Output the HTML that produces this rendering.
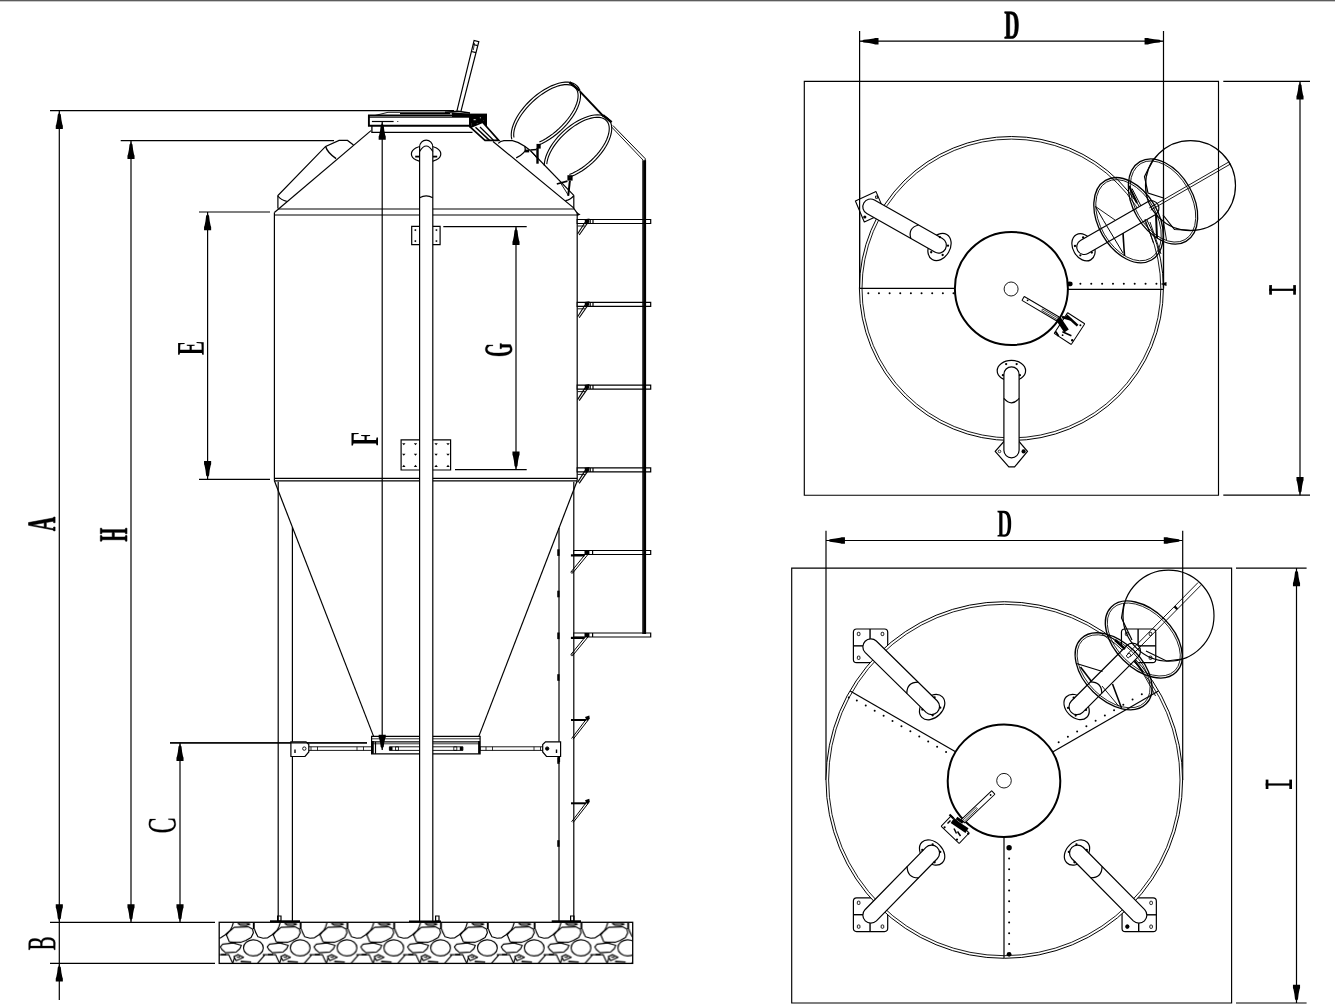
<!DOCTYPE html>
<html><head><meta charset="utf-8"><title>Silo drawing</title>
<style>
html,body{margin:0;padding:0;background:#fff;}
body{width:1335px;height:1006px;overflow:hidden;font-family:"Liberation Serif",serif;}
svg{display:block;position:absolute;left:0;top:0;}
.g{fill:none;stroke:#000;stroke-width:1.2;stroke-linecap:butt;stroke-linejoin:miter;}
.k{fill:#000;stroke:none;}
.w{fill:#fff;}
.t{font-family:"Liberation Serif",serif;fill:#000;}
</style></head>
<body>
<svg width="1335" height="1006" viewBox="0 0 1335 1006">
<defs>
<pattern id="gravel" patternUnits="userSpaceOnUse" x="253" y="922.3" width="46.8" height="41.1"><g fill="none" stroke="#000" stroke-width="1.15" stroke-linejoin="round"><path d="M1.5,6.9 L2.6,9.9 L4.9,14.4 L10.1,15.9 L14.6,15.5 L19.1,12.5 L24,8 L25.8,4.6 L27.3,0 M31.8,1.3 L34.8,0.75 L40,0.9 L43.8,2 L40,3.1 L34,2.8 Z M28.1,5 L41.9,4.5 L46.4,6.9 L47.2,10.6 L44.9,15.1 L39.7,18.1 L34.5,20 L23.2,19.6 L20.2,12.5 L22.5,9.9 Z M-18.7,5 L-4.9,4.5 L-0.4,6.9 L0.4,10.6 L-1.9,15.1 L-7.1,18.1 M14.2,24.5 L16.5,21.9 L27,20.7 L35.2,23 L33.7,26.4 L30,29.7 L19.5,30.5 L15.7,27.1 Z M4.5,41.1 L12,32.4 L22.5,32.4 L26.6,41.1 M9.7,32.4 L12,32.4 M27.7,34.2 L31.8,32.4 L37.5,35 L30,38.4 Z M26.6,41.1 L28.5,34.6 M30.5,35 L34,34.6"/><path d="M0.8,0 L0.8,6.9 M47.6,0 L47.6,6.9" stroke-width="1.9"/><path d="M34.5,39.3 L45,39.9 M24,20.2 L30,20.5 M15,32.4 L20,32.4" stroke-width="1.6"/><ellipse cx="0.4" cy="25.6" rx="9.9" ry="8.1"/><ellipse cx="47.2" cy="25.6" rx="9.9" ry="8.1"/></g></pattern>
</defs>
<rect x="0" y="0" width="1335" height="1006" fill="#fff"/>
<rect x="0" y="0" width="1335" height="1" fill="#5c5c5c"/>
<rect x="0" y="1" width="1335" height="1" fill="#c9c9c9"/>
<g class="g">
<rect x="219.2" y="922.3" width="413.5" height="41.1" fill="url(#gravel)" stroke="#000" stroke-width="1.3"/>
<line x1="50" y1="110.7" x2="454" y2="110.7"/>
<line x1="50" y1="922.4" x2="215" y2="922.4"/>
<line x1="50" y1="963.4" x2="215" y2="963.4"/>
<line x1="59.3" y1="110.7" x2="59.3" y2="1000"/>
<path d="M59.3,110.7 L58.7,113.5 L57.8,114.5 L57.2,119.7 L56.3,124.2 L55.75,125.7 L55.75,128.9 L62.85,128.9 L62.85,125.7 L62.3,124.2 L61.4,119.7 L60.8,114.5 L59.9,113.5Z" class="k"/>
<path d="M59.3,922.4 L58.7,919.6 L57.8,918.6 L57.2,913.4 L56.3,908.9 L55.75,907.4 L55.75,904.2 L62.85,904.2 L62.85,907.4 L62.3,908.9 L61.4,913.4 L60.8,918.6 L59.9,919.6Z" class="k"/>
<path d="M59.3,963.4 L58.7,966.2 L57.8,967.2 L57.2,972.4 L56.3,976.9 L55.75,978.4 L55.75,981.6 L62.85,981.6 L62.85,978.4 L62.3,976.9 L61.4,972.4 L60.8,967.2 L59.9,966.2Z" class="k"/>
<line x1="120.7" y1="140.7" x2="334" y2="140.7"/>
<line x1="131" y1="140.7" x2="131" y2="922.4"/>
<path d="M131,140.7 L130.4,143.5 L129.5,144.5 L128.9,149.7 L128,154.2 L127.45,155.7 L127.45,158.9 L134.55,158.9 L134.55,155.7 L134,154.2 L133.1,149.7 L132.5,144.5 L131.6,143.5Z" class="k"/>
<path d="M131,922.4 L130.4,919.6 L129.5,918.6 L128.9,913.4 L128,908.9 L127.45,907.4 L127.45,904.2 L134.55,904.2 L134.55,907.4 L134,908.9 L133.1,913.4 L132.5,918.6 L131.6,919.6Z" class="k"/>
<line x1="199" y1="212" x2="270" y2="212"/>
<line x1="199" y1="479.3" x2="270" y2="479.3"/>
<line x1="207.6" y1="212" x2="207.6" y2="479.3"/>
<path d="M207.6,212 L207,214.8 L206.1,215.8 L205.5,221 L204.6,225.5 L204.05,227 L204.05,230.2 L211.15,230.2 L211.15,227 L210.6,225.5 L209.7,221 L209.1,215.8 L208.2,214.8Z" class="k"/>
<path d="M207.6,479.3 L207,476.5 L206.1,475.5 L205.5,470.3 L204.6,465.8 L204.05,464.3 L204.05,461.1 L211.15,461.1 L211.15,464.3 L210.6,465.8 L209.7,470.3 L209.1,475.5 L208.2,476.5Z" class="k"/>
<line x1="170" y1="742.8" x2="367" y2="742.8"/>
<line x1="180" y1="742.8" x2="180" y2="922.4"/>
<path d="M180,742.8 L179.4,745.6 L178.5,746.6 L177.9,751.8 L177,756.3 L176.45,757.8 L176.45,761 L183.55,761 L183.55,757.8 L183,756.3 L182.1,751.8 L181.5,746.6 L180.6,745.6Z" class="k"/>
<path d="M180,922.4 L179.4,919.6 L178.5,918.6 L177.9,913.4 L177,908.9 L176.45,907.4 L176.45,904.2 L183.55,904.2 L183.55,907.4 L183,908.9 L182.1,913.4 L181.5,918.6 L180.6,919.6Z" class="k"/>
<line x1="443.3" y1="226.7" x2="526.7" y2="226.7"/>
<line x1="455" y1="469.7" x2="526.7" y2="469.7"/>
<line x1="516" y1="226.7" x2="516" y2="469.7"/>
<path d="M516,226.7 L515.4,229.5 L514.5,230.5 L513.9,235.7 L513,240.2 L512.45,241.7 L512.45,244.9 L519.55,244.9 L519.55,241.7 L519,240.2 L518.1,235.7 L517.5,230.5 L516.6,229.5Z" class="k"/>
<path d="M516,469.7 L515.4,466.9 L514.5,465.9 L513.9,460.7 L513,456.2 L512.45,454.7 L512.45,451.5 L519.55,451.5 L519.55,454.7 L519,456.2 L518.1,460.7 L517.5,465.9 L516.6,466.9Z" class="k"/>
<line x1="278.2" y1="481.7" x2="278.2" y2="921"/>
<line x1="292.4" y1="527.2" x2="292.4" y2="921"/>
<line x1="559" y1="528" x2="559" y2="921"/>
<line x1="573.8" y1="481.7" x2="573.8" y2="921"/>
<line x1="558.4" y1="549.3" x2="558.4" y2="555.9" stroke-width="2.3"/>
<line x1="558.4" y1="590.7" x2="558.4" y2="597.3" stroke-width="2.3"/>
<line x1="558.4" y1="632.5" x2="558.4" y2="639.1" stroke-width="2.3"/>
<line x1="558.4" y1="674.2" x2="558.4" y2="680.8" stroke-width="2.3"/>
<line x1="558.4" y1="757.2" x2="558.4" y2="763.8" stroke-width="2.3"/>
<line x1="558.4" y1="840.2" x2="558.4" y2="846.8" stroke-width="2.3"/>
<line x1="270" y1="921.2" x2="300" y2="921.2" stroke-width="1.8"/>
<path d="M277.6,916 L281,916 L281,921 L277.6,921Z"/>
<line x1="551.7" y1="921.2" x2="581" y2="921.2" stroke-width="1.8"/>
<path d="M570.6,916 L574,916 L574,921 L570.6,921Z"/>
<line x1="277.9" y1="209" x2="574.4" y2="209"/>
<line x1="274.4" y1="215" x2="577.2" y2="215"/>
<line x1="274.4" y1="212.5" x2="274.4" y2="480.8"/>
<line x1="577.2" y1="212.5" x2="577.2" y2="480.8"/>
<line x1="274.4" y1="478.4" x2="577.2" y2="478.4"/>
<line x1="274.4" y1="480.8" x2="577.2" y2="480.8"/>
<path d="M577.2,212.5 L580.6,214.4 L577.2,216Z" class="k"/>
<line x1="274.4" y1="480.8" x2="373.6" y2="736.4"/>
<line x1="577.2" y1="480.8" x2="478.8" y2="736.4"/>
<line x1="371" y1="130.6" x2="274.4" y2="212.5"/>
<path d="M493,141.5 L573.3,207.6 L577.2,213.2"/>
<path d="M277.9,208.5 L277.9,195.6 L325.6,146.4 L339.1,140.4 L347.5,140.4 L353.5,144.9"/>
<path d="M325.6,146.4 Q327.3,152.6 336.1,158.6" stroke-width="1.5"/>
<path d="M277.9,196 Q281,200 286.8,201.4"/>
<path d="M498.2,143.4 Q500.5,141 503.9,140.6 L512.4,140.6 Q519,142 524.7,146.2 L530.3,150.5"/>
<path d="M524.7,146.2 Q526.2,150.6 523.7,152.6 Q521,155.6 516.2,157.8" stroke-width="1.3"/>
<path d="M524.9,149.6 L529.2,149.6 L529.2,152.4 L524.9,152.4Z" class="k"/>
<line x1="530.3" y1="150.5" x2="573.8" y2="195.3"/>
<line x1="573.8" y1="195.3" x2="573.8" y2="208.3"/>
<path d="M565.3,200.6 Q570.6,200 573.8,195.6"/>
<path d="M368.9,115.5 L482,115.5 L482,125.7 L368.9,125.7Z" stroke-width="1.9"/>
<line x1="368.9" y1="117.3" x2="482" y2="117.3" stroke-width="0.9"/>
<path d="M371.9,125.5 L371.9,132.3 L472.5,132.3" stroke-width="1.3"/>
<path d="M375,115.5 L388,112.3 L445,112.3 L458,113.6" stroke-width="0.9"/>
<line x1="400" y1="113.7" x2="450" y2="113.7" stroke-width="1.2"/>
<path d="M452,112.4 L470,113.4 L470,116.9 L452,116.9Z" class="k"/>
<path d="M445,112.3 L458,111.2 L470,113" stroke-width="1.4"/>
<path d="M469,113.6 L487,113.6 L487,127.3 L469,127.3Z" class="k"/>
<path d="M473,118.6 L476.3,118.6 L476.3,120.8 L473,120.8Z" class="w"/>
<path d="M479.2,117 L481.6,117 L481.6,118.8 L479.2,118.8Z" class="w"/>
<path d="M476.2,122.6 L479.6,122.6 L479.6,124.4 L476.2,124.4Z" class="w"/>
<path d="M483.2,119.5 L484.6,119.5 L484.6,121.5 L483.2,121.5Z" class="w"/>
<path d="M471.2,122.5 L472.6,122.5 L472.6,126.5 L471.2,126.5Z" class="w"/>
<path d="M470.6,127.3 L485,140.4 L498.8,140.4 L482.6,122.3Z" stroke-width="1.7" fill="#fff"/>
<path d="M475.5,127.3 L489.5,140.4" stroke-width="1.5"/>
<path d="M480,127 L493.5,140.2" stroke-width="1.2"/>
<path d="M456.7,111.8 L474.1,40.4 L478.8,41.7 L460.8,111.8"/>
<path d="M473.1,44.5 L477.7,45.7"/>
<path d="M471.4,51.5 L476,52.7"/>
<path d="M474.5,43 L473.3,50" stroke-width="0.8"/>
<line x1="371.9" y1="121.5" x2="393.6" y2="121.5"/>
<circle cx="397.8" cy="121.5" r="0.6" class="k"/>
<line x1="382.2" y1="121.5" x2="382.2" y2="750"/>
<path d="M382.2,121.5 L381.6,124.3 L380.7,125.3 L380.1,130.5 L379.2,135 L378.65,136.5 L378.65,139.7 L385.75,139.7 L385.75,136.5 L385.2,135 L384.3,130.5 L383.7,125.3 L382.8,124.3Z" class="k"/>
<path d="M382.2,750.2 L381.6,747.82 L380.7,746.97 L380.1,742.55 L379.2,738.73 L378.65,737.45 L378.65,734.73 L385.75,734.73 L385.75,737.45 L385.2,738.73 L384.3,742.55 L383.7,746.97 L382.8,747.82Z" class="k"/>
<path d="M371.6,736.4 L480.1,736.4 L480.1,753.8 L371.6,753.8Z" stroke-width="1.2"/>
<line x1="371.6" y1="738.8" x2="480.1" y2="738.8" stroke-width="0.8"/>
<line x1="371.6" y1="741.8" x2="480.1" y2="741.8"/>
<line x1="371.6" y1="743.8" x2="480.1" y2="743.8" stroke-width="0.8"/>
<line x1="372.6" y1="741" x2="372.6" y2="753.8" stroke-width="2.4"/>
<line x1="479.1" y1="741" x2="479.1" y2="753.8" stroke-width="2"/>
<line x1="375.5" y1="741.8" x2="375.5" y2="753.8"/>
<path d="M389.4,746.8 L462.9,746.8 L462.9,750.4 L389.4,750.4Z" stroke-width="0.9"/>
<path d="M389.4,746.8 L392.5,746.8 L392.5,750.4 L389.4,750.4Z" class="k"/>
<path d="M395.5,746.8 L398.5,746.8 L398.5,750.4 L395.5,750.4Z" stroke-width="0.8"/>
<path d="M459.8,746.8 L462.9,746.8 L462.9,750.4 L459.8,750.4Z" class="k"/>
<path d="M453.8,746.8 L456.8,746.8 L456.8,750.4 L453.8,750.4Z" stroke-width="0.8"/>
<path d="M305,746.8 L371.6,746.8 L371.6,750.4 L305,750.4Z" stroke-width="0.9"/>
<path d="M480.1,746.8 L546.5,746.8 L546.5,750.4 L480.1,750.4Z" stroke-width="0.9"/>
<line x1="311" y1="746.8" x2="311" y2="750.4" stroke-width="0.8"/>
<line x1="317.5" y1="746.8" x2="317.5" y2="750.4" stroke-width="0.8"/>
<line x1="357" y1="746.8" x2="357" y2="750.4" stroke-width="0.8"/>
<line x1="363.5" y1="746.8" x2="363.5" y2="750.4" stroke-width="0.8"/>
<line x1="486" y1="746.8" x2="486" y2="750.4" stroke-width="0.8"/>
<line x1="492.5" y1="746.8" x2="492.5" y2="750.4" stroke-width="0.8"/>
<line x1="534" y1="746.8" x2="534" y2="750.4" stroke-width="0.8"/>
<line x1="540.5" y1="746.8" x2="540.5" y2="750.4" stroke-width="0.8"/>
<path d="M290.9,741.8 L306,741.8 L308.8,744.5 L308.8,752 L305,756.5 L290.9,756.5Z" fill="#fff"/>
<path d="M560.6,741.8 L545.5,741.8 L542.7,744.5 L542.7,752 L546.5,756.5 L560.6,756.5Z" fill="#fff"/>
<path d="M294.3,749.5 L295.7,749.5 L295.7,753 L294.3,753Z" class="k"/>
<path d="M555.8,749.5 L557.2,749.5 L557.2,753 L555.8,753Z" class="k"/>
<circle cx="304.3" cy="748.6" r="1.7" stroke-width="0.9"/>
<circle cx="547.2" cy="748.6" r="1.7" stroke-width="0.9" fill="#000"/>
<line x1="170" y1="742.8" x2="367" y2="742.8"/>
<line x1="559" y1="757" x2="559" y2="762" stroke-width="2.2"/>
<path d="M411.7,226.3 L440.1,226.3 L440.1,244.7 L411.7,244.7Z"/>
<path d="M413.8,230.1 L416.1,229 L416.1,231.2Z" class="k"/>
<path d="M413.8,241.1 L416.1,240 L416.1,242.2Z" class="k"/>
<path d="M434.9,230.1 L437.2,229 L437.2,231.2Z" class="k"/>
<path d="M434.9,241.1 L437.2,240 L437.2,242.2Z" class="k"/>
<path d="M401.1,439.9 L450.6,439.9 L450.6,470 L401.1,470Z"/>
<path d="M402.1,443.2 L405.5,443.2 L403.8,445.3Z" class="k"/>
<path d="M402.1,453.7 L405.5,453.7 L403.8,455.8Z" class="k"/>
<path d="M402.1,466.9 L405.5,466.9 L403.8,464.8Z" class="k"/>
<path d="M413.8,443.2 L417.2,443.2 L415.5,445.3Z" class="k"/>
<path d="M413.8,453.7 L417.2,453.7 L415.5,455.8Z" class="k"/>
<path d="M413.8,466.9 L417.2,466.9 L415.5,464.8Z" class="k"/>
<path d="M434.4,443.2 L437.8,443.2 L436.1,445.3Z" class="k"/>
<path d="M434.4,453.7 L437.8,453.7 L436.1,455.8Z" class="k"/>
<path d="M434.4,466.9 L437.8,466.9 L436.1,464.8Z" class="k"/>
<path d="M446.3,443.2 L449.7,443.2 L448,445.3Z" class="k"/>
<path d="M446.3,453.7 L449.7,453.7 L448,455.8Z" class="k"/>
<path d="M446.3,466.9 L449.7,466.9 L448,464.8Z" class="k"/>
<ellipse cx="426.1" cy="153.9" rx="14.7" ry="8.4" fill="#fff"/>
<line x1="415.2" y1="156.6" x2="419.4" y2="156.6" stroke-width="1.8"/>
<line x1="433" y1="156.6" x2="437.2" y2="156.6" stroke-width="1.8"/>
<path d="M419.6,921 L419.6,147 A6.6,6.8 0 0 1 432.8,147 L432.8,921" fill="#fff"/>
<path d="M419.6,197.8 Q426.2,194 432.8,197.8"/>
<path d="M419.6,151.5 Q426.2,140.5 432.8,151.5"/>
<line x1="409" y1="921.4" x2="441" y2="921.4" stroke-width="1.8"/>
<path d="M435.6,916 L439,916 L439,921 L435.6,921Z"/>
<path d="M579.9,91.4 L603.8,116.6" stroke-width="2"/>
<path d="M611.5,126.9 L643,160" stroke-width="0.9"/>
<path d="M612.9,125.5 L645.2,158.6 L645.2,161" stroke-width="1"/>
<path d="M577.2,219.5 L650.7,219.5 L650.7,223.5 L577.2,223.5Z" fill="#fff"/>
<line x1="590.2" y1="219.5" x2="590.2" y2="223.5"/>
<line x1="593" y1="219.5" x2="593" y2="223.5"/>
<path d="M577.6,234 L586.5,220" stroke-width="1.1"/>
<path d="M579.2,235 L589,221" stroke-width="1.1"/>
<path d="M584.5,219.3 L589.5,218.5 L588.6,223 L585.5,224.5Z" class="k"/>
<line x1="577.6" y1="226" x2="585" y2="226" stroke-width="0.9"/>
<path d="M577.2,302.3 L650.7,302.3 L650.7,306.3 L577.2,306.3Z" fill="#fff"/>
<line x1="590.2" y1="302.3" x2="590.2" y2="306.3"/>
<line x1="593" y1="302.3" x2="593" y2="306.3"/>
<path d="M577.6,316.8 L586.5,302.8" stroke-width="1.1"/>
<path d="M579.2,317.8 L589,303.8" stroke-width="1.1"/>
<path d="M584.5,302.1 L589.5,301.3 L588.6,305.8 L585.5,307.3Z" class="k"/>
<line x1="577.6" y1="308.8" x2="585" y2="308.8" stroke-width="0.9"/>
<path d="M577.2,385.1 L650.7,385.1 L650.7,389.1 L577.2,389.1Z" fill="#fff"/>
<line x1="590.2" y1="385.1" x2="590.2" y2="389.1"/>
<line x1="593" y1="385.1" x2="593" y2="389.1"/>
<path d="M577.6,399.6 L586.5,385.6" stroke-width="1.1"/>
<path d="M579.2,400.6 L589,386.6" stroke-width="1.1"/>
<path d="M584.5,384.9 L589.5,384.1 L588.6,388.6 L585.5,390.1Z" class="k"/>
<line x1="577.6" y1="391.6" x2="585" y2="391.6" stroke-width="0.9"/>
<path d="M577.2,467.9 L650.7,467.9 L650.7,471.9 L577.2,471.9Z" fill="#fff"/>
<line x1="590.2" y1="467.9" x2="590.2" y2="471.9"/>
<line x1="593" y1="467.9" x2="593" y2="471.9"/>
<path d="M577.6,482.4 L586.5,468.4" stroke-width="1.1"/>
<path d="M579.2,483.4 L589,469.4" stroke-width="1.1"/>
<path d="M584.5,467.7 L589.5,466.9 L588.6,471.4 L585.5,472.9Z" class="k"/>
<line x1="577.6" y1="474.4" x2="585" y2="474.4" stroke-width="0.9"/>
<path d="M573.8,550.5 L650.7,550.5 L650.7,554.5 L573.8,554.5Z" fill="#fff"/>
<line x1="570.9" y1="555.4" x2="584.5" y2="555.4" stroke-width="2.2"/>
<path d="M571.2,571.7 L586.6,552.7" stroke-width="1"/>
<path d="M572.8,572.9 L588.6,553.7" stroke-width="1"/>
<path d="M584.5,550.5 L589.4,550.5 L589.4,554.5 L584.5,554.5Z" class="k"/>
<line x1="592.6" y1="550.5" x2="592.6" y2="554.5"/>
<circle cx="572" cy="572.3" r="1" stroke-width="0.8"/>
<path d="M573.8,633 L650.7,633 L650.7,637 L573.8,637Z" fill="#fff"/>
<line x1="570.9" y1="637.9" x2="584.5" y2="637.9" stroke-width="2.2"/>
<path d="M571.2,654.2 L586.6,635.2" stroke-width="1"/>
<path d="M572.8,655.4 L588.6,636.2" stroke-width="1"/>
<path d="M584.5,633 L589.4,633 L589.4,637 L584.5,637Z" class="k"/>
<line x1="592.6" y1="633" x2="592.6" y2="637"/>
<circle cx="572" cy="654.8" r="1" stroke-width="0.8"/>
<line x1="644.6" y1="160.2" x2="644.6" y2="634" stroke-width="3"/>
<line x1="642.6" y1="160.2" x2="642.6" y2="634" stroke-width="0.8"/>
<line x1="571" y1="720" x2="586" y2="720" stroke-width="2"/>
<path d="M571.6,738.5 L586.6,718.8" stroke-width="1"/>
<path d="M573.2,739.2 L588.4,719.8" stroke-width="1"/>
<path d="M585,717 L589.3,715.4 L589.8,718.8 L587,721.2Z" class="k"/>
<line x1="571" y1="803.3" x2="586" y2="803.3" stroke-width="2"/>
<path d="M571.6,821.8 L586.6,802.1" stroke-width="1"/>
<path d="M573.2,822.5 L588.4,803.1" stroke-width="1"/>
<path d="M585,800.3 L589.3,798.7 L589.8,802.1 L587,804.5Z" class="k"/>
<path d="M511.83,139.4 L511.34,136.89 L511.24,134.14 L511.53,131.16 L512.21,128.01 L513.28,124.71 L514.72,121.3 L516.51,117.82 L518.63,114.31 L521.06,110.81 L523.77,107.36 L526.74,103.99 L529.92,100.76 L533.28,97.68 L536.79,94.8 L540.4,92.15 L544.07,89.76 L547.76,87.66 L551.43,85.87 L555.04,84.42 L558.55,83.31 L561.91,82.56 L565.09,82.17 L568.05,82.17 L570.76,82.53 L573.19,83.27 L575.31,84.36 L577.1,85.81 L578.53,87.59 L579.59,89.68 L580.27,92.05 L580.56,94.69 L580.46,97.56 L579.97,100.63 L579.09,103.86 L577.83,107.22 L576.21,110.67 L574.25,114.17 L571.96,117.68 L569.38,121.16 L566.54,124.58 L563.46,127.88 L560.18,131.04 L556.74,134.02 L553.17,136.79 L549.53,139.3 L545.84,141.55 L542.15,143.49 L538.51,145.12" stroke-width="1.1"/>
<path d="M513.95,137.44 L513.7,135.14 L513.8,132.61 L514.26,129.89 L515.07,127.01 L516.21,123.99 L517.69,120.88 L519.47,117.71 L521.55,114.5 L523.9,111.3 L526.49,108.15 L529.29,105.07 L532.28,102.1 L535.41,99.27 L538.67,96.62 L542,94.18 L545.37,91.96 L548.75,90 L552.1,88.31 L555.39,86.93 L558.56,85.85 L561.6,85.09 L564.46,84.67 L567.12,84.58 L569.55,84.83 L571.71,85.41 L573.59,86.32 L575.16,87.55 L576.41,89.08 L577.33,90.9 L577.89,92.99 L578.11,95.32 L577.97,97.86 L577.47,100.6 L576.63,103.5 L575.45,106.52 L573.94,109.65 L572.12,112.83 L570.02,116.03 L567.64,119.23 L565.03,122.38 L562.21,125.45 L559.2,128.4 L556.05,131.21 L552.79,133.84 L549.45,136.27 L546.07,138.46 L542.7,140.39 L539.35,142.04" stroke-width="1.1"/>
<path d="M544.26,165.74 L544.42,162.92 L544.94,159.92 L545.82,156.78 L547.06,153.54 L548.62,150.23 L550.51,146.88 L552.7,143.53 L555.17,140.22 L557.88,136.98 L560.81,133.86 L563.93,130.87 L567.2,128.06 L570.59,125.46 L574.05,123.09 L577.57,120.98 L581.08,119.16 L584.57,117.64 L587.98,116.43 L591.28,115.56 L594.44,115.03 L597.42,114.85 L600.19,115.02 L602.72,115.54 L604.97,116.4 L606.94,117.59 L608.59,119.1 L609.91,120.92 L610.88,123.02 L611.49,125.38 L611.74,127.98 L611.62,130.78 L611.13,133.76 L610.29,136.88 L609.09,140.12 L607.55,143.42 L605.7,146.77 L603.54,150.12 L601.1,153.44 L598.42,156.68 L595.51,159.82 L592.41,162.82 L589.15,165.65 L585.77,168.28 L582.31,170.67 L578.8,172.81 L575.28,174.67 L571.79,176.22 L568.37,177.46" stroke-width="1.1"/>
<path d="M546.78,164.12 L547.11,161.54 L547.77,158.8 L548.75,155.94 L550.03,152.98 L551.62,149.97 L553.48,146.92 L555.61,143.87 L557.97,140.85 L560.54,137.9 L563.29,135.05 L566.21,132.32 L569.24,129.75 L572.37,127.36 L575.56,125.17 L578.78,123.22 L581.98,121.52 L585.15,120.09 L588.24,118.95 L591.22,118.1 L594.06,117.55 L596.73,117.32 L599.2,117.41 L601.45,117.8 L603.45,118.51 L605.18,119.51 L606.62,120.81 L607.77,122.38 L608.59,124.22 L609.09,126.29 L609.27,128.59 L609.11,131.07 L608.62,133.73 L607.81,136.53 L606.69,139.44 L605.26,142.43 L603.54,145.47 L601.55,148.52 L599.31,151.56 L596.85,154.54 L594.19,157.45 L591.36,160.25 L588.38,162.91 L585.3,165.4 L582.13,167.7 L578.93,169.77 L575.71,171.61 L572.52,173.18 L569.39,174.48" stroke-width="1.1"/>
<path d="M536.5,143.9 L540.7,143.9 L540.7,148.6 L536.5,148.6Z" class="k"/>
<line x1="537.5" y1="148" x2="537.5" y2="163.7" stroke-width="2.4"/>
<line x1="530.3" y1="150" x2="536.6" y2="149.6" stroke-width="1.5"/>
<line x1="531.3" y1="151.4" x2="536.9" y2="158.2" stroke-width="0.9"/>
<path d="M567.4,175.2 L572.6,175.2 L572.6,180.6 L567.4,180.6Z" class="k"/>
<path d="M569.3,177 L570.8,177 L570.8,178.6 L569.3,178.6Z" class="w"/>
<line x1="569.9" y1="180.6" x2="568.2" y2="195.8" stroke-width="2"/>
<line x1="556.8" y1="184" x2="567.4" y2="181.2" stroke-width="1.8"/>
<line x1="560.5" y1="182.8" x2="568.1" y2="194.9" stroke-width="0.9"/>
<path d="M569.5,82.3 L579.6,90.6" stroke-width="2.4"/>
<path d="M603,115.2 L611.6,122.2" stroke-width="2.4"/>
<path transform="matrix(0.00000 -0.00963 -0.01967 0.00000 55.10000 531.09252)" d="M428 73V0H20V73L120 100L597 1352H887L1362 100L1464 73V0H867V73L1022 100L894 447H379L256 100ZM641 1150 420 557H856Z" fill="#000" stroke="#000" stroke-width="0.55" vector-effect="non-scaling-stroke" stroke-linejoin="round"/>
<path transform="matrix(0.00000 -0.00853 -0.01991 0.00000 127.00000 541.49856)" d="M35 0V74L207 100V1241L35 1268V1341H694V1268L522 1241V745H1070V1241L898 1268V1341H1559V1268L1386 1241V100L1559 74V0H898V74L1070 100V635H522V100L694 74V0Z" fill="#000" stroke="#000" stroke-width="0.55" vector-effect="non-scaling-stroke" stroke-linejoin="round"/>
<path transform="matrix(0.00000 -0.01028 -0.01909 0.00000 203.70000 355.05971)" d="M35 73 207 100V1242L35 1268V1341H1177V1000H1086L1054 1217Q942 1231 730 1231H522V739H873L904 887H993V475H904L873 627H522V110H775Q1033 110 1113 126L1170 374H1261L1242 0H35Z" fill="#000" stroke="none"/>
<path transform="matrix(0.00000 -0.01127 -0.01976 0.00000 378.00000 445.89445)" d="M522 572V100L745 73V0H48V73L207 100V1242L35 1268V1341H1153V980H1059L1027 1217Q978 1224 865 1228Q752 1231 687 1231H522V682H849L880 852H969V400H880L849 572Z" fill="#000" stroke="none"/>
<path transform="matrix(0.00000 -0.00877 -0.01955 0.00000 511.80901 356.87683)" d="M1406 70Q1282 29 1118 4Q954 -20 823 -20Q604 -20 440 60Q277 140 188 293Q100 446 100 655Q100 992 292 1174Q485 1356 842 1356Q929 1356 1000 1349Q1072 1342 1134 1330Q1196 1318 1362 1271V963H1272L1248 1137Q1169 1191 1074 1221Q979 1251 878 1251Q645 1251 538 1106Q432 961 432 657Q432 374 544 228Q657 83 870 83Q986 83 1091 118V506L919 532V606H1537V532L1406 506Z" fill="#000" stroke="#000" stroke-width="0.3" vector-effect="non-scaling-stroke" stroke-linejoin="round"/>
<path transform="matrix(0.00000 -0.01155 -0.01962 0.00000 175.40756 833.27006)" d="M774 -20Q448 -20 266 158Q84 335 84 655Q84 1001 259 1178Q434 1356 778 1356Q987 1356 1227 1305L1233 1012H1167L1137 1186Q1067 1229 974 1252Q882 1276 786 1276Q529 1276 411 1125Q293 974 293 657Q293 365 416 211Q540 57 776 57Q890 57 991 84Q1092 112 1151 158L1188 358H1253L1247 43Q1027 -20 774 -20Z" fill="#000" stroke="#000" stroke-width="0.25" vector-effect="non-scaling-stroke" stroke-linejoin="round"/>
<path transform="matrix(0.00000 -0.01019 -0.01975 0.00000 55.18151 950.40124)" d="M958 1016Q958 1139 881 1195Q804 1251 631 1251H424V744H643Q805 744 882 808Q958 872 958 1016ZM1059 382Q1059 523 965 588Q871 654 664 654H424V90Q562 84 718 84Q889 84 974 156Q1059 229 1059 382ZM59 0V53L231 80V1262L59 1288V1341H672Q927 1341 1045 1266Q1163 1190 1163 1026Q1163 908 1090 825Q1018 742 887 714Q1068 695 1167 608Q1266 522 1266 386Q1266 193 1132 94Q999 -6 743 -6L315 0Z" fill="#000" stroke="#000" stroke-width="0.35" vector-effect="non-scaling-stroke" stroke-linejoin="round"/>
<path d="M804.3,81.3 L1218.5,81.3 L1218.5,495.2 L804.3,495.2Z" stroke-width="1.15"/>
<line x1="859.6" y1="31" x2="859.6" y2="288.5"/>
<line x1="1163.5" y1="31" x2="1163.5" y2="288.5"/>
<line x1="859.6" y1="41.2" x2="1163.5" y2="41.2"/>
<path d="M859.6,41.2 L862.51,40.66 L863.55,39.85 L868.96,39.31 L873.64,38.5 L875.2,38.01 L878.53,38.01 L878.53,44.4 L875.2,44.4 L873.64,43.9 L868.96,43.09 L863.55,42.55 L862.51,41.74Z" class="k"/>
<path d="M1163.5,41.2 L1160.59,40.66 L1159.55,39.85 L1154.14,39.31 L1149.46,38.5 L1147.9,38.01 L1144.57,38.01 L1144.57,44.4 L1147.9,44.4 L1149.46,43.9 L1154.14,43.09 L1159.55,42.55 L1160.59,41.74Z" class="k"/>
<line x1="1223.3" y1="81.3" x2="1310" y2="81.3"/>
<line x1="1223.3" y1="495.2" x2="1310" y2="495.2"/>
<line x1="1300" y1="81.3" x2="1300" y2="495.2"/>
<path d="M1300,81.3 L1299.4,84.1 L1298.5,85.1 L1297.9,90.3 L1297,94.8 L1296.45,96.3 L1296.45,99.5 L1303.55,99.5 L1303.55,96.3 L1303,94.8 L1302.1,90.3 L1301.5,85.1 L1300.6,84.1Z" class="k"/>
<path d="M1300,495.2 L1299.4,492.4 L1298.5,491.4 L1297.9,486.2 L1297,481.7 L1296.45,480.2 L1296.45,477 L1303.55,477 L1303.55,480.2 L1303,481.7 L1302.1,486.2 L1301.5,491.4 L1300.6,492.4Z" class="k"/>
<path d="M1269.2,288.7 L1295.9,288.7 L1295.9,290.9 L1269.2,290.9Z" class="k"/>
<path d="M1269.2,285.1 L1271.9,285.1 L1271.9,294.7 L1269.2,294.7Z" class="k"/>
<path d="M1293.2,285.1 L1295.9,285.1 L1295.9,294.7 L1293.2,294.7Z" class="k"/>
<path d="M876,191.6 L855.4,201 L864.3,222 L885,212.6 Z" stroke-linejoin="round" stroke-width="1.1" fill="#fff"/>
<path d="M875.6,196 L877.6,196 L877.6,198.3 L875.6,198.3Z" stroke-width="0.9"/>
<circle cx="864.8" cy="217" r="1.6" class="k"/>
<path d="M995.2,451.4 L1008.8,466.9 L1014.6,466.9 L1027.5,451.4 L1016,438 L1007,438 Z" stroke-linejoin="round" fill="#fff"/>
<circle cx="999.5" cy="451.4" r="1.3" stroke-width="0.8"/>
<circle cx="1023.6" cy="451.4" r="2.1" class="k"/>
<circle cx="1011.4" cy="288.5" r="152" stroke-width="1" fill="#fff"/>
<circle cx="1011.4" cy="288.5" r="149.4" stroke-width="0.9"/>
<line x1="859.6" y1="190" x2="859.6" y2="288.5"/>
<line x1="1163.5" y1="190" x2="1163.5" y2="288.5"/>
<line x1="859.6" y1="288.3" x2="955" y2="288.3"/>
<line x1="1067.9" y1="289.3" x2="1163.4" y2="289.3"/>
<circle cx="868.3" cy="293.3" r="1" class="k"/>
<circle cx="878.95" cy="293.3" r="1" class="k"/>
<circle cx="889.6" cy="293.3" r="1" class="k"/>
<circle cx="900.25" cy="293.3" r="1" class="k"/>
<circle cx="910.9" cy="293.3" r="1" class="k"/>
<circle cx="921.55" cy="293.3" r="1" class="k"/>
<circle cx="932.2" cy="293.3" r="1" class="k"/>
<circle cx="942.85" cy="293.3" r="1" class="k"/>
<circle cx="953.5" cy="293.3" r="1" class="k"/>
<circle cx="1080.4" cy="283.7" r="1" class="k"/>
<circle cx="1091.26" cy="283.7" r="1" class="k"/>
<circle cx="1102.12" cy="283.7" r="1" class="k"/>
<circle cx="1112.98" cy="283.7" r="1" class="k"/>
<circle cx="1123.84" cy="283.7" r="1" class="k"/>
<circle cx="1134.7" cy="283.7" r="1" class="k"/>
<circle cx="1145.56" cy="283.7" r="1" class="k"/>
<circle cx="1156.42" cy="283.7" r="1" class="k"/>
<ellipse cx="1069.6" cy="283.9" rx="3" ry="2.4" class="k"/>
<path d="M1160.5,284 L1166.5,282 L1166.5,286Z" class="k"/>
<circle cx="1011.4" cy="288.5" r="56.5" stroke-width="2" fill="#fff"/>
<circle cx="1011.1" cy="289" r="7" stroke-width="0.9"/>
<rect x="1020.3" y="306.4" width="40.5" height="4.6" rx="0.5" ry="0.5" transform="rotate(30.5 1040.55 308.7)" fill="#fff" stroke-width="1"/>
<rect x="1040.75" y="313.55" width="18.5" height="1.7" rx="0.5" ry="0.5" transform="rotate(30.5 1050 314.4)" stroke-width="0.7"/>
<circle cx="1027.6" cy="300.3" r="0.9" class="k"/>
<rect x="1059.25" y="316.25" width="20.4" height="24.7" rx="0.5" ry="0.5" transform="rotate(33 1069.45 328.6)" fill="#fff" stroke-width="1"/>
<path d="M1058.5,319 L1066.5,331" stroke-width="5.5"/>
<path d="M1066.5,315.5 L1077.6,325.6" stroke-width="2.6"/>
<path d="M1062.4,331.7 L1071.4,335.8" stroke-width="1.5"/>
<path d="M1062,317 L1071,319.5" stroke-width="2.4"/>
<path d="M1055.5,331.5 L1058.5,336" stroke-width="2"/>
<circle cx="1080.4" cy="325.3" r="1" class="k"/>
<circle cx="1072.2" cy="340.2" r="1.2" class="k"/>
<circle cx="1062.6" cy="335.2" r="0.9" class="k"/>
<ellipse cx="939.5" cy="247" rx="10.5" ry="14.5" fill="#fff" transform="rotate(30 939.5 247)"/>
<path d="M942.44,238.51 L874.44,200.01 A7.8,7.8 0 0 0 866.76,213.59 L934.76,252.09 A7.8,7.8 0 0 0 942.44,238.51Z" fill="#fff"/>
<path d="M918.51,224.96 Q907.71,227.81 910.83,238.54"/>
<circle cx="942.64" cy="255.01" r="1.15" class="k"/>
<circle cx="931.2" cy="252.23" r="1.15" class="k"/>
<circle cx="939.89" cy="237.2" r="1.15" class="k"/>
<circle cx="948.01" cy="245.72" r="1.15" class="k"/>
<ellipse cx="1011.4" cy="370.7" rx="10.3" ry="14.2" fill="#fff" transform="rotate(90 1011.4 370.7)"/>
<path d="M1003.9,374.4 L1003.9,450.3 A7.6,7.6 0 0 0 1019.1,450.3 L1019.1,374.4 A7.6,7.6 0 0 0 1003.9,374.4Z" fill="#fff"/>
<path d="M1003.9,398.4 Q1011.5,407.2 1019.1,398.4"/>
<circle cx="1016.65" cy="364.1" r="1.15" class="k"/>
<circle cx="1019.9" cy="375.18" r="1.15" class="k"/>
<circle cx="1002.9" cy="375.18" r="1.15" class="k"/>
<circle cx="1006.15" cy="364.1" r="1.15" class="k"/>
<ellipse cx="1083.5" cy="247.3" rx="10.5" ry="14.5" fill="#fff" transform="rotate(-30 1083.5 247.3)"/>
<path d="M1087.95,253.5 L1155.25,214.7 A7.5,7.5 0 0 0 1147.75,201.7 L1080.45,240.5 A7.5,7.5 0 0 0 1087.95,253.5Z" fill="#fff"/>
<circle cx="1074.99" cy="246.02" r="1.15" class="k"/>
<circle cx="1083.11" cy="237.5" r="1.15" class="k"/>
<circle cx="1091.8" cy="252.53" r="1.15" class="k"/>
<circle cx="1080.35" cy="255.31" r="1.15" class="k"/>
<path d="M1150.65,210.13 L1230.65,163.93" stroke-width="0.9"/>
<path d="M1149.35,207.87 L1229.35,161.67" stroke-width="0.9"/>
<circle cx="1190.5" cy="185.6" r="45" stroke-width="1.2"/>
<ellipse cx="1163" cy="201.5" rx="46" ry="30" stroke-width="1.3" transform="rotate(60 1163 201.5)"/>
<ellipse cx="1163" cy="201.5" rx="44" ry="28" stroke-width="0.8" transform="rotate(60 1163 201.5)"/>
<ellipse cx="1128.5" cy="220.2" rx="46" ry="30" stroke-width="1.3" transform="rotate(60 1128.5 220.2)"/>
<ellipse cx="1128.5" cy="220.2" rx="44" ry="28" stroke-width="0.8" transform="rotate(60 1128.5 220.2)"/>
<path d="M1153.5,158.5 L1144.5,176.5 L1148,193 L1163.5,198" stroke-width="1.2"/>
<path d="M1163,215 L1174.5,229.5 L1194.5,230.5" stroke-width="1.2"/>
<path d="M1095.5,206.5 L1103.5,220.5 L1123,253" stroke-width="1"/>
<path d="M1095.5,206.5 L1115,220" stroke-width="0.9"/>
<path d="M1123,233 L1124.5,256" stroke-width="1.6"/>
<path d="M1129,186 L1137,203" stroke-width="2"/>
<path d="M1132,188.5 L1141,206" stroke-width="1"/>
<path d="M1156,215 L1157,238" stroke-width="2"/>
<path d="M1145,219 L1153.5,243" stroke-width="1"/>
<path d="M1150,222 L1161,254" stroke-width="0.9"/>
<path d="M1163.5,222 L1166.5,240" stroke-width="0.9"/>
<path transform="matrix(0.01020 0.00000 0.00000 -0.01993 1004.33276 38.42030)" d="M1047 670Q1047 960 941 1096Q835 1231 596 1231H522V114Q618 106 696 106Q826 106 902 162Q977 218 1012 338Q1047 457 1047 670ZM673 1341Q1034 1341 1206 1178Q1379 1014 1379 678Q1379 333 1214 164Q1049 -4 715 -4L266 0H36V73L208 100V1242L36 1268V1341Z" fill="#000" stroke="#000" stroke-width="0.6" vector-effect="non-scaling-stroke" stroke-linejoin="round"/>
<path d="M791.7,568.1 L1231.6,568.1 L1231.6,1003 L791.7,1003Z" stroke-width="1.15"/>
<line x1="826" y1="530.8" x2="826" y2="780"/>
<line x1="1182.7" y1="530.8" x2="1182.7" y2="780"/>
<line x1="826" y1="540.5" x2="1182.7" y2="540.5"/>
<path d="M826,540.5 L828.91,539.96 L829.95,539.15 L835.36,538.61 L840.04,537.8 L841.6,537.3 L844.93,537.3 L844.93,543.7 L841.6,543.7 L840.04,543.2 L835.36,542.39 L829.95,541.85 L828.91,541.04Z" class="k"/>
<path d="M1182.7,540.5 L1179.79,539.96 L1178.75,539.15 L1173.34,538.61 L1168.66,537.8 L1167.1,537.3 L1163.77,537.3 L1163.77,543.7 L1167.1,543.7 L1168.66,543.2 L1173.34,542.39 L1178.75,541.85 L1179.79,541.04Z" class="k"/>
<line x1="1236" y1="568.1" x2="1306.6" y2="568.1"/>
<line x1="1236" y1="1003" x2="1306.6" y2="1003"/>
<line x1="1296.5" y1="568.1" x2="1296.5" y2="1003"/>
<path d="M1296.5,568.1 L1295.9,570.9 L1295,571.9 L1294.4,577.1 L1293.5,581.6 L1292.95,583.1 L1292.95,586.3 L1300.05,586.3 L1300.05,583.1 L1299.5,581.6 L1298.6,577.1 L1298,571.9 L1297.1,570.9Z" class="k"/>
<path d="M1296.5,1003 L1295.9,1000.2 L1295,999.2 L1294.4,994 L1293.5,989.5 L1292.95,988 L1292.95,984.8 L1300.05,984.8 L1300.05,988 L1299.5,989.5 L1298.6,994 L1298,999.2 L1297.1,1000.2Z" class="k"/>
<path d="M1265.7,783.4 L1292,783.4 L1292,785.6 L1265.7,785.6Z" class="k"/>
<path d="M1265.7,779.6 L1268.4,779.6 L1268.4,789 L1265.7,789Z" class="k"/>
<path d="M1289.3,779.6 L1292,779.6 L1292,789 L1289.3,789Z" class="k"/>
<rect x="853.4" y="629" width="34.3" height="33.7" rx="3.2" ry="3.2" fill="#fff" stroke-width="1.2"/>
<line x1="870.05" y1="645.85" x2="870.05" y2="629" stroke-width="1.4"/>
<line x1="870.55" y1="645.85" x2="853.4" y2="645.85" stroke-width="1.4"/>
<rect x="857.35" y="632.3" width="2.6" height="3.3" rx="0.9" stroke-width="0.9"/>
<rect x="857.35" y="656.1" width="2.6" height="3.3" rx="0.9" stroke-width="0.9"/>
<rect x="881.15" y="632.3" width="2.6" height="3.3" rx="0.9" stroke-width="0.9"/>
<rect x="1121.45" y="629" width="34.3" height="33.7" rx="3.2" ry="3.2" fill="#fff" stroke-width="1.2"/>
<line x1="1138.1" y1="645.85" x2="1138.1" y2="629" stroke-width="1.4"/>
<line x1="1138.6" y1="645.85" x2="1155.75" y2="645.85" stroke-width="1.4"/>
<rect x="1149.2" y="632.3" width="2.6" height="3.3" rx="0.9" stroke-width="0.9"/>
<rect x="1149.2" y="656.1" width="2.6" height="3.3" rx="0.9" stroke-width="0.9"/>
<rect x="1125.4" y="632.3" width="2.6" height="3.3" rx="0.9" stroke-width="0.9"/>
<rect x="853.4" y="897.85" width="34.3" height="33.7" rx="3.2" ry="3.2" fill="#fff" stroke-width="1.2"/>
<line x1="870.05" y1="914.7" x2="870.05" y2="931.55" stroke-width="1.4"/>
<line x1="870.55" y1="914.7" x2="853.4" y2="914.7" stroke-width="1.4"/>
<rect x="857.35" y="924.95" width="2.6" height="3.3" rx="0.9" stroke-width="0.9"/>
<rect x="857.35" y="901.15" width="2.6" height="3.3" rx="0.9" stroke-width="0.9"/>
<rect x="881.15" y="924.95" width="2.6" height="3.3" rx="0.9" stroke-width="0.9"/>
<rect x="1122.05" y="897.95" width="34.3" height="33.7" rx="3.2" ry="3.2" fill="#fff" stroke-width="1.2"/>
<line x1="1138.7" y1="914.8" x2="1138.7" y2="931.65" stroke-width="1.4"/>
<line x1="1139.2" y1="914.8" x2="1156.35" y2="914.8" stroke-width="1.4"/>
<rect x="1149.8" y="925.05" width="2.6" height="3.3" rx="0.9" stroke-width="0.9"/>
<rect x="1149.8" y="901.25" width="2.6" height="3.3" rx="0.9" stroke-width="0.9"/>
<rect x="1126" y="925.05" width="2.6" height="3.3" rx="0.9" stroke-width="0.9"/>
<circle cx="1004.3" cy="780" r="178.3" stroke-width="1" fill="#fff"/>
<circle cx="1004.3" cy="780" r="175.7" stroke-width="0.9"/>
<line x1="955.54" y1="751.85" x2="850.15" y2="691"/>
<line x1="1053.06" y1="751.85" x2="1158.45" y2="691"/>
<line x1="1004" y1="836.3" x2="1004" y2="958"/>
<circle cx="946.04" cy="751.91" r="1" class="k"/>
<circle cx="937.12" cy="746.76" r="1" class="k"/>
<circle cx="928.2" cy="741.61" r="1" class="k"/>
<circle cx="919.28" cy="736.46" r="1" class="k"/>
<circle cx="910.36" cy="731.31" r="1" class="k"/>
<circle cx="901.44" cy="726.16" r="1" class="k"/>
<circle cx="892.52" cy="721.01" r="1" class="k"/>
<circle cx="883.6" cy="715.86" r="1" class="k"/>
<circle cx="874.68" cy="710.71" r="1" class="k"/>
<circle cx="865.76" cy="705.56" r="1" class="k"/>
<circle cx="856.84" cy="700.41" r="1" class="k"/>
<circle cx="1058.66" cy="742.15" r="1" class="k"/>
<circle cx="1067.9" cy="736.82" r="1" class="k"/>
<circle cx="1077.13" cy="731.48" r="1" class="k"/>
<circle cx="1086.37" cy="726.15" r="1" class="k"/>
<circle cx="1095.61" cy="720.82" r="1" class="k"/>
<circle cx="1104.85" cy="715.48" r="1" class="k"/>
<circle cx="1114.08" cy="710.15" r="1" class="k"/>
<circle cx="1123.32" cy="704.82" r="1" class="k"/>
<circle cx="1132.56" cy="699.48" r="1" class="k"/>
<circle cx="1141.8" cy="694.15" r="1" class="k"/>
<circle cx="1009.1" cy="858.5" r="1" class="k"/>
<circle cx="1009.1" cy="869.19" r="1" class="k"/>
<circle cx="1009.1" cy="879.88" r="1" class="k"/>
<circle cx="1009.1" cy="890.56" r="1" class="k"/>
<circle cx="1009.1" cy="901.25" r="1" class="k"/>
<circle cx="1009.1" cy="911.94" r="1" class="k"/>
<circle cx="1009.1" cy="922.62" r="1" class="k"/>
<circle cx="1009.1" cy="933.31" r="1" class="k"/>
<circle cx="1009.1" cy="944" r="1" class="k"/>
<circle cx="1009.1" cy="847.8" r="2.7" class="k"/>
<circle cx="1009.1" cy="954.3" r="2.4" class="k"/>
<circle cx="848.8" cy="697.5" r="1" class="k"/>
<circle cx="1004" cy="780.7" r="56.3" stroke-width="2" fill="#fff"/>
<circle cx="1004" cy="780.7" r="7.3" stroke-width="0.9"/>
<rect x="957.25" y="804.4" width="41.8" height="4.8" rx="0.5" ry="0.5" transform="rotate(-43.5 978.15 806.8)" fill="#fff" stroke-width="1"/>
<rect x="960.5" y="813.75" width="19" height="1.7" rx="0.5" ry="0.5" transform="rotate(-43.5 970 814.6)" stroke-width="0.7"/>
<circle cx="990.6" cy="795" r="0.9" class="k"/>
<rect x="942.75" y="822.25" width="24.9" height="14.6" rx="0.5" ry="0.5" transform="rotate(43.7 955.2 829.55)" fill="#fff" stroke-width="1"/>
<path d="M952.2,820.8 L967,830.6" stroke-width="5.5"/>
<path d="M956.5,818 L963,822.5" stroke-width="3"/>
<path d="M949.5,814.5 L953.5,818.5" stroke-width="2.2"/>
<path d="M954,828.5 L956.5,833.5" stroke-width="1.5"/>
<path d="M957.5,831.5 L960.5,836" stroke-width="1.5"/>
<path d="M947.5,823.5 L950.5,820.5" stroke-width="1.4"/>
<circle cx="944.6" cy="827.3" r="1.1" class="k"/>
<circle cx="957" cy="839.6" r="1.1" class="k"/>
<circle cx="968.2" cy="833.6" r="1.2" class="k"/>
<circle cx="1127.4" cy="926.6" r="2" class="k"/>
<ellipse cx="932.12" cy="707.12" rx="10.5" ry="14.5" fill="#fff" transform="rotate(225 932.12 707.12)"/>
<path d="M937.31,701 L876.31,641 A8,8 0 0 0 865.09,652.4 L926.09,712.4 A8,8 0 0 0 937.31,701Z" fill="#fff"/>
<path d="M918.06,682.06 Q906.75,682.16 906.84,693.47"/>
<circle cx="932.66" cy="715.25" r="1.15" class="k"/>
<circle cx="922.33" cy="709.61" r="1.15" class="k"/>
<circle cx="934.61" cy="697.33" r="1.15" class="k"/>
<circle cx="940.25" cy="707.66" r="1.15" class="k"/>
<ellipse cx="932.12" cy="852.48" rx="10.5" ry="14.5" fill="#fff" transform="rotate(135 932.12 852.48)"/>
<path d="M925.98,847.31 L864.98,909.71 A8,8 0 0 0 876.42,920.89 L937.42,858.49 A8,8 0 0 0 925.98,847.31Z" fill="#fff"/>
<path d="M907.11,866.61 Q907.23,877.93 918.55,877.8"/>
<circle cx="940.25" cy="851.94" r="1.15" class="k"/>
<circle cx="934.61" cy="862.27" r="1.15" class="k"/>
<circle cx="922.33" cy="849.99" r="1.15" class="k"/>
<circle cx="932.66" cy="844.35" r="1.15" class="k"/>
<ellipse cx="1076.98" cy="852.48" rx="10.5" ry="14.5" fill="#fff" transform="rotate(45 1076.98 852.48)"/>
<path d="M1071.71,858.52 L1133.31,920.92 A8,8 0 0 0 1144.69,909.68 L1083.09,847.28 A8,8 0 0 0 1071.71,858.52Z" fill="#fff"/>
<path d="M1090.68,877.73 Q1101.99,877.81 1102.06,866.49"/>
<circle cx="1076.44" cy="844.35" r="1.15" class="k"/>
<circle cx="1086.77" cy="849.99" r="1.15" class="k"/>
<circle cx="1074.49" cy="862.27" r="1.15" class="k"/>
<circle cx="1068.85" cy="851.94" r="1.15" class="k"/>
<ellipse cx="1076.6" cy="707" rx="10.5" ry="14.5" fill="#fff" transform="rotate(-45 1076.6 707)"/>
<path d="M1082.66,712.36 L1138.16,656.86 A8,8 0 0 0 1126.84,645.54 L1071.34,701.04 A8,8 0 0 0 1082.66,712.36Z" fill="#fff"/>
<path d="M1101.75,693.26 Q1101.75,681.95 1090.44,681.95"/>
<circle cx="1068.05" cy="707.96" r="1.15" class="k"/>
<circle cx="1073.69" cy="697.63" r="1.15" class="k"/>
<circle cx="1085.97" cy="709.91" r="1.15" class="k"/>
<circle cx="1075.64" cy="715.55" r="1.15" class="k"/>
<path d="M1127.5,654 L1198.1,582.5" stroke-width="0.9"/>
<path d="M1130.3,656.8 L1200.9,585.3" stroke-width="0.9"/>
<path d="M0,0 L0,0 L0,0 L0,0Z"/>
<rect x="1126.6" y="654" width="4.2" height="3" transform="rotate(-45 1128.7 655.5)" stroke-width="0.9"/>
<path d="M1174.5,606.4 L1177.3,609.2" stroke-width="2.2"/>
<circle cx="1168.5" cy="615.7" r="45.5" stroke-width="1.2"/>
<ellipse cx="1143.8" cy="639.5" rx="46" ry="29" stroke-width="1.3" transform="rotate(45 1143.8 639.5)"/>
<ellipse cx="1143.8" cy="639.5" rx="44" ry="27" stroke-width="0.8" transform="rotate(45 1143.8 639.5)"/>
<ellipse cx="1113.6" cy="671.3" rx="46" ry="29" stroke-width="1.3" transform="rotate(45 1113.6 671.3)"/>
<ellipse cx="1113.6" cy="671.3" rx="44" ry="27" stroke-width="0.8" transform="rotate(45 1113.6 671.3)"/>
<path d="M1124,603 L1121.5,618 L1132,640" stroke-width="1.2"/>
<path d="M1146,651 L1166.5,661 L1182,659" stroke-width="1.2"/>
<path d="M1076.5,663.5 L1102.5,671.5" stroke-width="1.2"/>
<path d="M1080.5,667 L1091.5,681.5" stroke-width="1.6"/>
<path d="M1112.5,684 L1121.5,708" stroke-width="1.6"/>
<path d="M1102,686 L1119,706.5" stroke-width="0.9"/>
<path d="M1115,640 L1125,649" stroke-width="2.4"/>
<path d="M1134.5,660.5 L1143,672" stroke-width="2"/>
<path d="M1140,668 L1152.5,690 L1155.5,696" stroke-width="0.9"/>
<path transform="matrix(0.01020 0.00000 0.00000 -0.01926 997.13276 536.62297)" d="M1047 670Q1047 960 941 1096Q835 1231 596 1231H522V114Q618 106 696 106Q826 106 902 162Q977 218 1012 338Q1047 457 1047 670ZM673 1341Q1034 1341 1206 1178Q1379 1014 1379 678Q1379 333 1214 164Q1049 -4 715 -4L266 0H36V73L208 100V1242L36 1268V1341Z" fill="#000" stroke="none"/>
</g>
</svg>
</body></html>
